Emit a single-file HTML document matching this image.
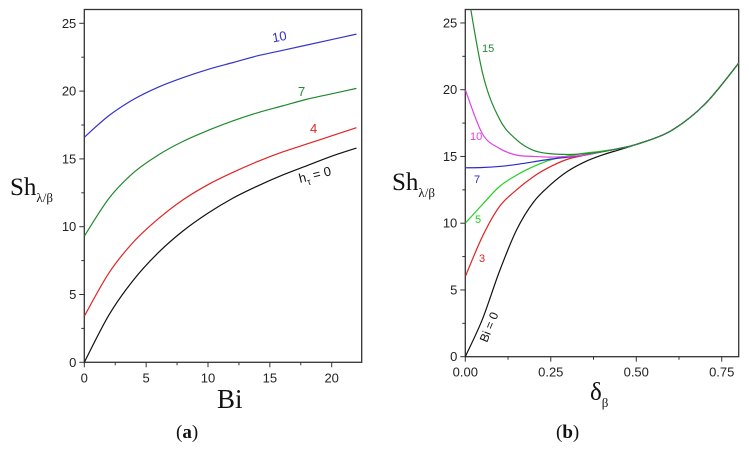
<!DOCTYPE html>
<html><head><meta charset="utf-8"><style>
body{margin:0;background:#fff;width:755px;height:446px;overflow:hidden}
text{font-family:"Liberation Sans",sans-serif}
.serif{font-family:"Liberation Serif",serif}
</style></head><body>
<svg id="c" width="755" height="446" xmlns="http://www.w3.org/2000/svg">
<defs>
<clipPath id="clipA"><rect x="84.3" y="9.5" width="277.4" height="353"/></clipPath>
<clipPath id="clipB"><rect x="465.3" y="9.5" width="273.4" height="347.5"/></clipPath>
</defs>
</svg>
<script>
// Panel (a)
const aX = [0,2,4,6,8,10,12,14,16,18,20,22];
const aH0 = [0,3.5,6.1,8.1,9.7,11.0,12.1,13.0,13.8,14.5,15.2,15.8];
const aH4 = [3.4,6.6,8.9,10.6,12.0,13.1,14.0,14.8,15.5,16.1,16.7,17.3];
const aH7 = [9.3,12.1,14.0,15.3,16.3,17.1,17.8,18.4,18.9,19.4,19.8,20.2];
const aH10 = [16.6,18.2,19.4,20.3,21.0,21.6,22.1,22.6,23.0,23.4,23.8,24.2];
const aXTicks = [0,5,10,15,20];
const aYTicks = [0,5,10,15,20,25];
// Panel (b)
const bX = [0,0.05,0.1,0.15,0.2,0.25,0.3,0.35,0.4,0.45,0.5,0.6,0.7,0.8];
const bBi0 = [0,2.8,6.4,9.5,11.6,12.9,13.9,14.6,15.1,15.5,15.9,16.9,18.9,22.0];
const bBi3 = [6.0,9.0,11.25,12.5,13.5,14.25,14.8,15.1,15.35,15.6,15.9,16.9,18.9,22.0];
const bBi5 = [10.0,11.4,12.75,13.6,14.25,14.75,15.05,15.25,15.4,15.6,15.9,16.9,18.9,22.0];
const bBi7 = [14.15,14.17,14.25,14.4,14.6,14.8,14.95,15.1,15.35,15.6,15.9,16.9,18.9,22.0];
const bBi10 = [20.0,16.7,15.6,15.1,15.0,14.95,15.0,15.1,15.35,15.6,15.9,16.9,18.9,22.0];
const bBi15 = [28.5,21.3,17.8,16.25,15.45,15.2,15.15,15.2,15.35,15.6,15.9,16.9,18.9,22.0];
const bXTicks = [0,0.25,0.5,0.75];
const bXLabels = ["0.00","0.25","0.50","0.75"];
const bYTicks = [0,5,10,15,20,25];

const svg = document.getElementById('c');
const NS = 'http://www.w3.org/2000/svg';
function mk(tag, attrs, parent){const e=document.createElementNS(NS,tag);for(const k in attrs)e.setAttribute(k,attrs[k]);(parent||svg).appendChild(e);return e;}
function path(xs, ys, fx, fy){
  const p = xs.map((x,i)=>[fx(x),fy(ys[i])]);
  let d = 'M'+p[0][0]+','+p[0][1];
  for(let i=0;i<p.length-1;i++){
    const p0=p[Math.max(0,i-1)],p1=p[i],p2=p[i+1],p3=p[Math.min(p.length-1,i+2)];
    d+=' C'+(p1[0]+(p2[0]-p0[0])/6)+','+(p1[1]+(p2[1]-p0[1])/6)+' '+(p2[0]-(p3[0]-p1[0])/6)+','+(p2[1]-(p3[1]-p1[1])/6)+' '+p2[0]+','+p2[1];
  }
  return d;
}
function panel(o){
  const g = mk('g',{});
  
  
  const fx = v=>o.x0+(v-o.xmin)*o.sx, fy = v=>o.y0-v*o.sy;
  const f = mk('rect',{x:o.x0,y:9.5,width:o.w,height:o.y0-9.5,fill:'none',stroke:'#333','stroke-width':1.3},g);
  
  
  o.xt.forEach((t,i)=>{
    const x=fx(t);
    mk('line',{x1:x,x2:x,y1:o.y0,y2:o.y0+5,stroke:'#333'},g);
    const tx=mk('text',{x:x,y:o.y0+20,'font-size':13,'text-anchor':'middle',fill:'#222'},g);
    tx.textContent=o.xl[i];
    
    
    if(i<o.xt.length-1){const xm=fx((t+o.xt[i+1])/2);mk('line',{x1:xm,x2:xm,y1:o.y0,y2:o.y0+3,stroke:'#333'},g);}
  });
  o.yt.forEach((t,i)=>{
    const y=fy(t);
    mk('line',{x1:o.x0-5,x2:o.x0,y1:y,y2:y,stroke:'#333'},g);
    const ty=mk('text',{x:o.x0-8,y:y+4.5,'font-size':13,'text-anchor':'end',fill:'#222'},g);
    ty.textContent=t;
    
    
    if(i<o.yt.length-1){const ym=fy(t+2.5);mk('line',{x1:o.x0-3,x2:o.x0,y1:ym,y2:ym,stroke:'#333'},g);}
  });
  o.series.forEach(s=>{
    const p=mk('path',{d:path(o.xs,s[0],fx,fy),fill:'none',stroke:s[1],'stroke-width':1.2,'clip-path':o.clip},g);
    
    
  });
  return g;
}
panel({name:'panel-a',x0:84.3,w:277.4,y0:362.3,xmin:0,sx:12.37,sy:13.56,xt:aXTicks,xl:aXTicks.map(String),yt:aYTicks,xs:aX,clip:'url(#clipA)',
  series:[[aH0,'#111','line-h0'],[aH4,'#e02424','line-h4'],[aH7,'#218a2e','line-h7'],[aH10,'#3434c8','line-h10']]});
panel({name:'panel-b',x0:465.3,w:273.4,y0:356.7,xmin:0,sx:341.9,sy:13.35,xt:bXTicks,xl:bXLabels,yt:bYTicks,xs:bX,clip:'url(#clipB)',
  series:[[bBi0,'#111','line-bi0'],[bBi3,'#e02424','line-bi3'],[bBi5,'#22d022','line-bi5'],[bBi7,'#2a2ac8','line-bi7'],[bBi10,'#e040e0','line-bi10'],[bBi15,'#218a2e','line-bi15']]});
</script>
<svg width="755" height="446" style="position:absolute;left:0;top:0" xmlns="http://www.w3.org/2000/svg">
<text x="272" y="41" font-size="13" fill="#3434c8" transform="rotate(-10 280 36)">10</text>
<text x="298" y="96" font-size="13" fill="#218a2e">7</text>
<text x="310" y="133" font-size="13" fill="#e02424">4</text>
<text x="300" y="183" font-size="13" fill="#111" transform="rotate(-14 300 183)">h<tspan font-size="9" dy="4">τ</tspan><tspan dy="-4"> = 0</tspan></text>
<text class="serif" x="10" y="195" font-size="25" fill="#111">Sh<tspan font-size="13" dy="7">λ/β</tspan></text>
<text class="serif" x="217" y="408" font-size="27" fill="#111">Bi</text>
<text class="serif" x="176" y="438" font-size="19" fill="#111">(<tspan font-weight="bold">a</tspan>)</text>
<text x="482" y="52" font-size="11" fill="#218a2e">15</text>
<text x="470" y="140" font-size="11" fill="#e040e0">10</text>
<text x="474" y="183" font-size="11" fill="#2a2ac8">7</text>
<text x="475" y="223" font-size="11" fill="#22d022">5</text>
<text x="479" y="262" font-size="11" fill="#e02424">3</text>
<text x="487" y="343" font-size="12" fill="#111" transform="rotate(-68 487 343)">Bi = 0</text>
<text class="serif" x="392" y="190" font-size="25" fill="#111">Sh<tspan font-size="13" dy="7">λ/β</tspan></text>
<text class="serif" x="590" y="400" font-size="25" fill="#111">δ<tspan font-size="13" dy="7">β</tspan></text>
<text class="serif" x="556" y="438" font-size="19" fill="#111">(<tspan font-weight="bold">b</tspan>)</text>
</svg>
</body></html>
